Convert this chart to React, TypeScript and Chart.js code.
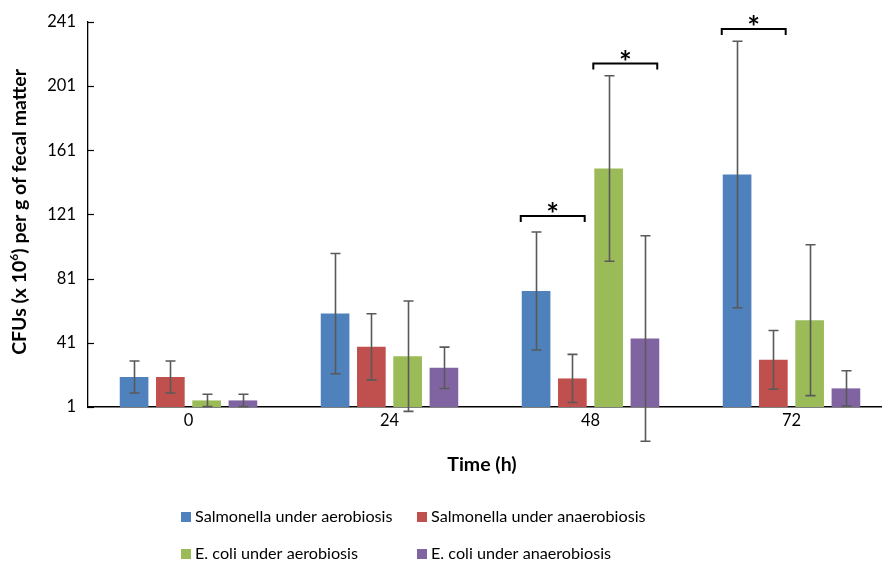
import React, { useEffect, useRef } from 'react';
import { Chart, registerables } from 'chart.js';

Chart.register(...registerables);

const categories = ['0', '24', '48', '72'];
const seriesLabels = [
  'Salmonella under aerobiosis',
  'Salmonella under anaerobiosis',
  'E. coli under aerobiosis',
  'E. coli under anaerobiosis',
];
const salmonellaAerobic = [19.7, 59.2, 73.3, 145.9];
const salmonellaAerobicErr = [10, 37.5, 36.8, 83];
const salmonellaAnaerobic = [19.7, 38.5, 18.8, 30.4];
const salmonellaAnaerobicErr = [10, 20.6, 15, 18.3];
const ecoliAerobic = [5.1, 32.7, 149.6, 55.1];
const ecoliAerobicErr = [3.8, 34.4, 57.8, 47];
const ecoliAnaerobic = [5.1, 25.4, 43.7, 12.6];
const ecoliAnaerobicErr = [3.8, 12.9, 64, 11];
const seriesColors = ['#4F81BD', '#C0504D', '#9BBB59', '#8064A2'];

const yMin = 1;
const yMax = 241;
const yStep = 40;

const xTitle = 'Time (h)';
const yTitleParts = ['CFUs (x 10', '6', ') per g of fecal matter'];

// significance brackets: category index, first and last series index, y level
const bracketCategory = [2, 2, 3];
const bracketFrom = [0, 2, 0];
const bracketTo = [1, 3, 1];
const bracketLevel = [120, 215, 236.5];

const seriesValues = [salmonellaAerobic, salmonellaAnaerobic, ecoliAerobic, ecoliAnaerobic];
const seriesErrors = [salmonellaAerobicErr, salmonellaAnaerobicErr, ecoliAerobicErr, ecoliAnaerobicErr];

const FONT = 'Lato, "Open Sans", sans-serif';

const extrasPlugin = {
  id: 'extras',
  afterDatasetsDraw(chart: any) {
    const ctx = chart.ctx as CanvasRenderingContext2D;
    const y = chart.scales.y;
    const area = chart.chartArea;
    ctx.save();

    // inner tick marks on the y axis
    ctx.strokeStyle = '#000';
    ctx.lineWidth = 1.2;
    y.ticks.forEach((t: any) => {
      const py = Math.round(y.getPixelForValue(t.value)) + 0.5;
      ctx.beginPath();
      ctx.moveTo(area.left - 1, py);
      ctx.lineTo(area.left + 6, py);
      ctx.stroke();
    });

    // error bars
    ctx.strokeStyle = '#595959';
    ctx.lineWidth = 1.6;
    seriesErrors.forEach((errs, i) => {
      const meta = chart.getDatasetMeta(i);
      meta.data.forEach((bar: any, j: number) => {
        const v = seriesValues[i][j];
        const e = errs[j];
        const top = y.getPixelForValue(v + e);
        const bot = y.getPixelForValue(v - e);
        const x = Math.round(bar.x) + 0.5;
        ctx.beginPath();
        ctx.moveTo(x, top);
        ctx.lineTo(x, bot);
        ctx.moveTo(x - 5, top);
        ctx.lineTo(x + 5, top);
        ctx.moveTo(x - 5, bot);
        ctx.lineTo(x + 5, bot);
        ctx.stroke();
      });
    });

    // significance brackets
    ctx.strokeStyle = '#000';
    ctx.fillStyle = '#000';
    ctx.lineWidth = 2;
    bracketCategory.forEach((cat, k) => {
      const b1 = chart.getDatasetMeta(bracketFrom[k]).data[cat];
      const b2 = chart.getDatasetMeta(bracketTo[k]).data[cat];
      const x1 = b1.x - b1.width / 2 - 1;
      const x2 = b2.x + b2.width / 2 - 2;
      const py = y.getPixelForValue(bracketLevel[k]);
      ctx.beginPath();
      ctx.moveTo(x1, py + 6);
      ctx.lineTo(x1, py);
      ctx.lineTo(x2, py);
      ctx.lineTo(x2, py + 6);
      ctx.stroke();
      ctx.font = `bold 30px ${FONT}`;
      ctx.textAlign = 'center';
      ctx.textBaseline = 'alphabetic';
      ctx.fillText('*', (x1 + x2) / 2, py + 9);
    });

    // y axis title with superscript
    ctx.save();
    ctx.translate(20, area.top + 190);
    ctx.rotate(-Math.PI / 2);
    ctx.textBaseline = 'middle';
    ctx.textAlign = 'left';
    const mainFont = `bold 19.5px ${FONT}`;
    const supFont = `bold 12px ${FONT}`;
    ctx.font = mainFont;
    const w1 = ctx.measureText(yTitleParts[0]).width;
    const w3 = ctx.measureText(yTitleParts[2]).width;
    ctx.font = supFont;
    const w2 = ctx.measureText(yTitleParts[1]).width;
    let tx = -(w1 + w2 + w3) / 2;
    ctx.font = mainFont;
    ctx.fillText(yTitleParts[0], tx, 0);
    tx += w1;
    ctx.font = supFont;
    ctx.fillText(yTitleParts[1], tx, -6);
    tx += w2;
    ctx.font = mainFont;
    ctx.fillText(yTitleParts[2], tx, 0);
    ctx.restore();

    // x axis title
    ctx.font = `bold 19.5px ${FONT}`;
    ctx.textAlign = 'center';
    ctx.textBaseline = 'middle';
    ctx.fillText(xTitle, area.left + 394, area.bottom + 58);

    // legend (two per row)
    ctx.font = `16.2px ${FONT}`;
    ctx.textAlign = 'left';
    ctx.textBaseline = 'middle';
    seriesLabels.forEach((label, i) => {
      const col = i % 2;
      const row = Math.floor(i / 2);
      const bx = area.left + 93 + col * 236;
      const by = area.bottom + 110 + row * 37;
      ctx.fillStyle = seriesColors[i];
      ctx.fillRect(bx, by - 5, 10, 10);
      ctx.fillStyle = '#000';
      ctx.fillText(label, bx + 14, by);
    });

    ctx.restore();
  },
};

export default function App() {
  const canvasRef = useRef<HTMLCanvasElement | null>(null);

  useEffect(() => {
    if (!canvasRef.current) return;
    const chart = new Chart(canvasRef.current, {
      type: 'bar',
      data: {
        labels: categories,
        datasets: seriesLabels.map((label, i) => ({
          label,
          data: seriesValues[i],
          backgroundColor: seriesColors[i],
          borderWidth: 0,
          categoryPercentage: 0.722,
          barPercentage: 0.79,
        })),
      },
      options: {
        animation: false,
        responsive: false,
        devicePixelRatio: 1,
        layout: { padding: { top: 21, right: 8, bottom: 125, left: 0 } },
        plugins: {
          legend: { display: false },
          tooltip: { enabled: false },
        },
        scales: {
          x: {
            grid: { display: false, drawTicks: false },
            border: { display: true, color: '#000', width: 1.4 },
            ticks: { color: '#000', font: { family: FONT, size: 16.5 }, padding: 4 },
            afterFit: (scale: any) => {
              scale.height = 30;
            },
          },
          y: {
            min: yMin,
            max: yMax,
            grid: { display: false, drawTicks: false },
            border: { display: true, color: '#000', width: 1.3 },
            ticks: {
              stepSize: yStep,
              color: '#000',
              font: { family: FONT, size: 16.5 },
              padding: 12,
            },
            afterFit: (scale: any) => {
              scale.width = 88;
            },
          },
        },
      },
      plugins: [extrasPlugin],
    });
    return () => chart.destroy();
  }, []);

  return (
    <>
      <style>{'body{margin:0;}'}</style>
      <div style={{ width: 882, height: 562, overflow: 'hidden', position: 'relative', background: '#fff' }}>
        <canvas ref={canvasRef} width={900} height={562} />
      </div>
    </>
  );
}
